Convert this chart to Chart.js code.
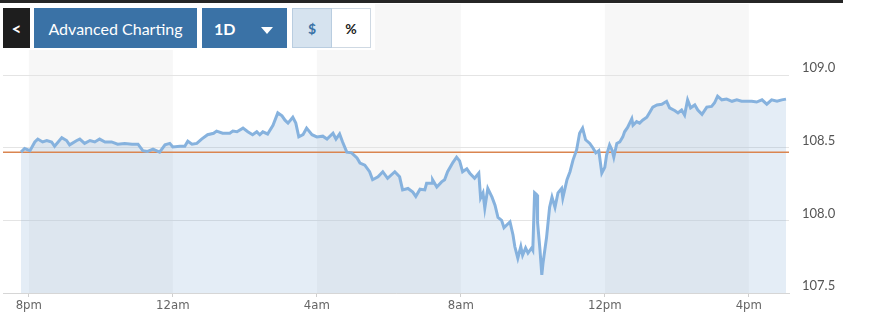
<!DOCTYPE html>
<html>
<head>
<meta charset="utf-8">
<script src="https://cdn.jsdelivr.net/npm/chart.js@4"></script>
<style>
  body { margin: 0; background: #fff; }
  #wrap { position: relative; width: 870px; height: 324px; overflow: hidden; }
  #topline { position: absolute; left: 0; top: 0; width: 843px; height: 3px; background: #262626; }
  #panel { position: absolute; left: 0; top: 3px; width: 375px; height: 47px; background: #fff; }
  .btn { position: absolute; top: 8px; height: 40px; box-sizing: border-box; font-family: Lato, "Open Sans", sans-serif;
         display: flex; align-items: center; justify-content: center; }
  #back { left: 3px; width: 27px; background: #1e1e1e; color: #fff; font-size: 17px; font-weight: 700; }
  #adv { left: 34px; width: 163px; background: #3a72a6; color: #fff; font-size: 16px; }
  #range { left: 202px; width: 85px; background: #3a72a6; color: #fff; font-size: 16px; font-weight: 700; justify-content: flex-start; padding-left: 12px; }
  #range .tri { position: absolute; left: 59px; top: 19px; width: 0; height: 0; border-left: 6px solid transparent; border-right: 6px solid transparent; border-top: 7px solid #fff; }
  #usd { left: 292px; width: 40px; background: #d6e3ef; border: 1px solid #b9cde0; color: #3a72a6; font-size: 14px; font-weight: 700; }
  #pct { left: 332px; width: 39px; background: #fff; border: 1px solid #cfd9e3; border-left: none; color: #222; font-size: 14px; font-weight: 700; }
</style>
</head>
<body>
<div id="wrap">
  <canvas id="chart" width="870" height="324"></canvas>
  <div id="topline"></div>
  <div id="panel"></div>
  <div class="btn" id="back">&lt;</div>
  <div class="btn" id="adv">Advanced Charting</div>
  <div class="btn" id="range">1D<span class="tri"></span></div>
  <div class="btn" id="usd">$</div>
  <div class="btn" id="pct">%</div>
</div>
<script>
// minutes after 8pm
const minutes = [
  -13, -7, 2, 10, 15, 23, 30, 38, 43, 55,
  63, 68, 80, 85, 93, 102, 110, 118, 127, 138,
  148, 160, 172, 182, 190, 198, 207, 218, 227, 235,
  240, 252, 260, 265, 272, 280, 288, 298, 308, 313,
  323, 335, 340, 347, 357, 365, 373, 380, 385, 390,
  398, 407, 415, 422, 427, 432, 440, 445, 450, 457,
  463, 472, 480, 490, 497, 507, 512, 518, 523, 530,
  538, 547, 552, 560, 568, 573, 582, 590, 598, 610,
  618, 623, 632, 640, 645, 652, 660, 663, 672, 673,
  680, 688, 693, 698, 707, 713, 718, 723, 730, 735,
  743, 750, 753, 757, 760, 765, 772, 777, 782, 788,
  792, 797, 802, 807, 810, 815, 820, 823, 828, 832,
  838, 840, 843, 847, 848, 852, 855, 857, 863, 868,
  872, 877, 882, 888, 890, 897, 902, 907, 913, 918,
  923, 928, 935, 940, 945, 950, 955, 960, 963, 968,
  972, 975, 980, 985, 990, 993, 998, 1005, 1007, 1013,
  1018, 1023, 1030, 1035, 1040, 1047, 1055, 1063, 1068, 1077,
  1082, 1088, 1093, 1098, 1103, 1110, 1115, 1122, 1130, 1138,
  1143, 1148, 1155, 1163, 1172, 1180, 1188, 1197, 1205, 1213,
  1222, 1230, 1238, 1247, 1255, 1262
];
const prices = [
  108.47, 108.495, 108.48, 108.54, 108.56, 108.54, 108.55, 108.54, 108.51, 108.57,
  108.55, 108.52, 108.55, 108.56, 108.53, 108.55, 108.54, 108.56, 108.54, 108.54,
  108.525, 108.53, 108.525, 108.525, 108.48, 108.475, 108.49, 108.47, 108.52, 108.53,
  108.505, 108.51, 108.51, 108.545, 108.525, 108.53, 108.56, 108.59, 108.60, 108.615,
  108.60, 108.60, 108.615, 108.61, 108.635, 108.61, 108.59, 108.61, 108.59, 108.61,
  108.595, 108.655, 108.74, 108.72, 108.69, 108.67, 108.71, 108.67, 108.575, 108.59,
  108.635, 108.59, 108.575, 108.58, 108.56, 108.60, 108.56, 108.595, 108.54, 108.47,
  108.465, 108.43, 108.395, 108.38, 108.335, 108.28, 108.30, 108.335, 108.29, 108.335,
  108.30, 108.21, 108.22, 108.195, 108.165, 108.215, 108.21, 108.255, 108.255, 108.28,
  108.23, 108.265, 108.28, 108.335, 108.40, 108.435, 108.41, 108.335, 108.355, 108.325,
  108.29, 108.325, 108.155, 108.19, 108.085, 108.22, 108.16, 108.105, 108.02, 108.00,
  107.95, 107.97, 107.99, 107.90, 107.82, 107.74, 107.82, 107.76, 107.81, 107.775,
  107.81, 107.795, 108.19, 108.175, 107.985, 107.795, 107.625, 107.705, 107.885, 108.09,
  108.16, 108.09, 108.19, 108.22, 108.155, 108.28, 108.335, 108.415, 108.485, 108.60,
  108.635, 108.555, 108.53, 108.50, 108.465, 108.48, 108.325, 108.365, 108.45, 108.52,
  108.485, 108.435, 108.53, 108.54, 108.575, 108.61, 108.64, 108.70, 108.655, 108.68,
  108.67, 108.69, 108.71, 108.745, 108.78, 108.795, 108.80, 108.82, 108.775, 108.755,
  108.74, 108.76, 108.725, 108.83, 108.775, 108.795, 108.76, 108.73, 108.78, 108.785,
  108.81, 108.855, 108.83, 108.835, 108.82, 108.83, 108.82, 108.82, 108.82, 108.815,
  108.83, 108.80, 108.83, 108.82, 108.83, 108.835
];
const prevClose = 108.47;

const tickMinutes = [0, 240, 480, 720, 960, 1200];
const tickLabels = ["8pm", "12am", "4am", "8am", "12pm", "4pm"];
const yTicks = [107.5, 108.0, 108.5, 109.0];

const xMin = -43, xMax = 1267;
const yMin = 107.5, yMax = 109.49;

// shaded session bands behind the plot (every other 4h block)
const bands = {
  id: "bands",
  beforeDraw(chart) {
    const { ctx, chartArea, scales } = chart;
    ctx.save();
    ctx.fillStyle = "#f7f7f7";
    for (let i = 0; i + 1 < tickMinutes.length; i += 2) {
      const x0 = scales.x.getPixelForValue(tickMinutes[i]);
      const x1 = scales.x.getPixelForValue(tickMinutes[i + 1]);
      ctx.fillRect(x0, chartArea.top, x1 - x0, chartArea.bottom - chartArea.top);
    }
    ctx.restore();
  }
};

const ctx = document.getElementById("chart").getContext("2d");
new Chart(ctx, {
  type: "line",
  data: {
    datasets: [
      {
        data: minutes.map((m, i) => ({ x: m, y: prices[i] })),
        borderColor: "#86b2de",
        borderWidth: 3,
        backgroundColor: "rgba(120,165,210,0.2)",
        fill: "start",
        pointRadius: 0,
        tension: 0,
      },
      {
        data: [{ x: xMin, y: prevClose }, { x: xMax, y: prevClose }],
        borderColor: "#da8550",
        borderWidth: 1.5,
        pointRadius: 0,
        fill: false,
      },
    ],
  },
  options: {
    responsive: false,
    animation: false,
    layout: { padding: { left: 3, top: 4, right: 0, bottom: 0 } },
    scales: {
      x: {
        type: "linear",
        min: xMin,
        max: xMax,
        afterFit: (s) => { s.height = 31; s.paddingLeft = 0; s.paddingRight = 0; },
        afterBuildTicks: (s) => { s.ticks = tickMinutes.map((v) => ({ value: v })); },
        grid: { drawOnChartArea: false, drawTicks: true, tickLength: 4, color: "#cfcfcf" },
        border: { color: "#d6d6d6" },
        ticks: {
          padding: 1,
          color: "#666",
          font: { family: "'Liberation Sans Narrow', 'DejaVu Sans Condensed', sans-serif", size: 13 },
          maxRotation: 0,
          callback: (v) => tickLabels[tickMinutes.indexOf(v)],
        },
      },
      y: {
        position: "right",
        min: yMin,
        max: yMax,
        afterFit: (s) => { s.width = 81; s.paddingTop = 0; s.paddingBottom = 0; },
        afterBuildTicks: (s) => { s.ticks = yTicks.map((v) => ({ value: v })); },
        grid: { color: "#e4e4e4", drawTicks: false },
        border: { display: false },
        ticks: {
          padding: 13,
          labelOffset: -7,
          color: "#555",
          font: { family: "Lato, 'Open Sans', sans-serif", size: 13 },
          callback: (v) => v.toFixed(1),
        },
      },
    },
    plugins: {
      legend: { display: false },
      tooltip: { enabled: false },
      filler: { drawTime: "beforeDatasetsDraw" },
    },
  },
  plugins: [bands],
});
</script>
</body>
</html>
